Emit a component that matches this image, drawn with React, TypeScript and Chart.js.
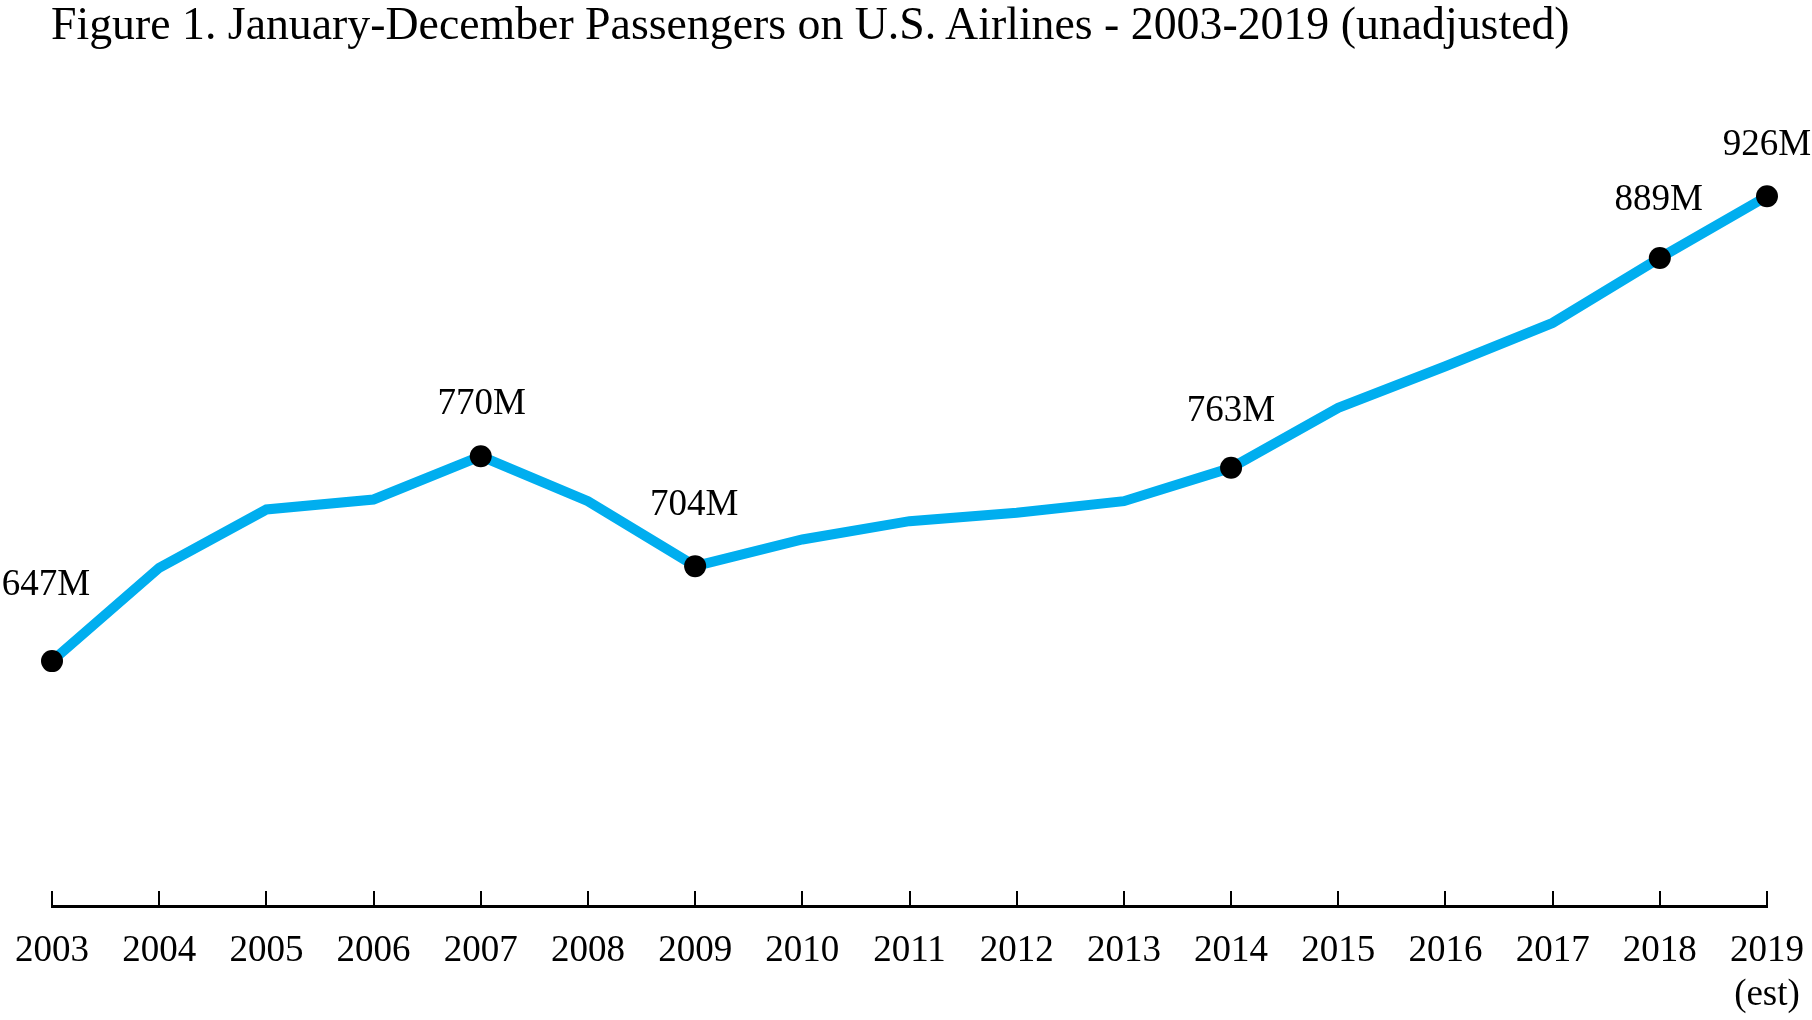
import { useEffect, useRef } from 'react';
import Chart from 'chart.js/auto';

const years = ['2003', '2004', '2005', '2006', '2007', '2008', '2009', '2010', '2011', '2012', '2013', '2014', '2015', '2016', '2017', '2018', '2019'];
// passengers, millions
const passengers = [647, 703, 738, 744, 770, 743, 704, 720, 731, 736, 743, 763, 799, 824, 850, 889, 926];
const labelledYears = ['2003', '2007', '2009', '2014', '2018', '2019'];
const estimatedYears = ['2019'];

const SERIF = "'Liberation Serif', 'Times New Roman', serif";

// label nudges (px) relative to the marker
const labelOffsets: Record<string, [number, number]> = {
  '2003': [-6, -76],
  '2007': [1, -52],
  '2009': [-1, -61],
  '2014': [0, -57],
  '2018': [-1, -58],
  '2019': [0, -51],
};

const axisTicks = {
  id: 'axisTicks',
  afterDraw(chart: any) {
    const xs = chart.scales.x;
    const bottom = chart.chartArea.bottom;
    const ctx = chart.ctx;
    ctx.save();
    ctx.strokeStyle = '#000';
    ctx.lineWidth = 2;
    xs.ticks.forEach((_: any, i: number) => {
      const px = Math.round(xs.getPixelForTick(i));
      ctx.beginPath();
      ctx.moveTo(px, bottom);
      ctx.lineTo(px, bottom - 15);
      ctx.stroke();
    });
    ctx.restore();
  },
};

const pointLabels = {
  id: 'pointLabels',
  afterDatasetsDraw(chart: any) {
    const meta = chart.getDatasetMeta(0);
    const ctx = chart.ctx;
    ctx.save();
    ctx.font = `37px ${SERIF}`;
    ctx.fillStyle = '#000';
    ctx.textAlign = 'center';
    ctx.textBaseline = 'middle';
    years.forEach((y, i) => {
      if (!labelledYears.includes(y)) return;
      const [dx, dy] = labelOffsets[y] || [0, -55];
      const pt = meta.data[i];
      ctx.fillText(`${passengers[i]}M`, pt.x + dx, pt.y + dy);
    });
    ctx.restore();
  },
};

export default function App() {
  const canvasRef = useRef<HTMLCanvasElement>(null);

  useEffect(() => {
    if (!canvasRef.current) return;
    const chart = new Chart(canvasRef.current, {
      type: 'line',
      data: {
        labels: years,
        datasets: [{
          data: passengers,
          borderColor: '#00AEEF',
          borderWidth: 10,
          borderJoinStyle: 'miter',
          borderCapStyle: 'butt',
          tension: 0,
          fill: false,
          pointRadius: years.map(y => (labelledYears.includes(y) ? 11 : 0)),
          pointHoverRadius: years.map(y => (labelledYears.includes(y) ? 11 : 0)),
          pointBackgroundColor: '#000',
          pointBorderWidth: 0,
          clip: false,
        }],
      },
      options: {
        responsive: false,
        animation: false,
        layout: { padding: { top: 73, left: 52, right: 45, bottom: 0 } },
        plugins: {
          legend: { display: false },
          title: { display: false },
          tooltip: { enabled: false },
        },
        scales: {
          x: {
            offset: false,
            // invisible tick marks give the label gap without widening the side padding
            grid: { display: true, drawOnChartArea: false, drawTicks: true, tickLength: 23, tickColor: 'rgba(0,0,0,0)' },
            border: { display: true, color: '#000', width: 3 },
            ticks: {
              autoSkip: false,
              maxRotation: 0,
              padding: 0,
              color: '#000',
              font: { family: SERIF, size: 37, lineHeight: 1.2 },
              callback: (_v: any, i: number) =>
                estimatedYears.includes(years[i]) ? [years[i], '(est)'] : years[i],
            },
            afterFit: (s: any) => { s.height = 114; },
          },
          y: {
            display: false,
            min: 500,
            max: 1000,
          },
        },
      },
      plugins: [axisTicks, pointLabels],
    });
    return () => chart.destroy();
  }, []);

  return (
    <div style={{ position: 'absolute', left: 0, top: 0, width: 1812, height: 1020, background: '#fff' }}>
      <div style={{
        position: 'absolute', left: 51, top: 1, fontFamily: SERIF, fontSize: 45.8,
        lineHeight: '46px', color: '#000', whiteSpace: 'nowrap',
      }}>
        Figure 1. January-December Passengers on U.S. Airlines - 2003-2019 (unadjusted)
      </div>
      <canvas ref={canvasRef} width={1812} height={1020} style={{ display: 'block' }} />
    </div>
  );
}
